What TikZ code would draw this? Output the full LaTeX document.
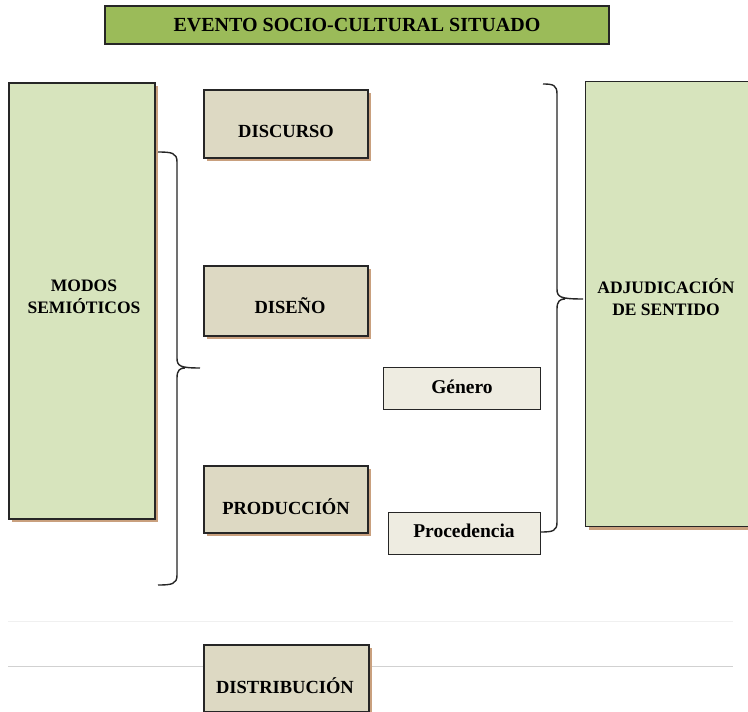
\documentclass[tikz,border=0pt]{standalone}
\usepackage{fontspec}
\setmainfont{Liberation Serif}
\begin{document}
\begin{tikzpicture}[x=1pt,y=-1pt,
  font=\bfseries,
  shadowc/.style={fill=shadowbrown},
  box/.style={draw=black!85,line width=1.2pt,inner sep=0pt,align=center},
  bigtxt/.style={align=center,font=\fontsize{17.5}{22}\selectfont\bfseries},
  midtxt/.style={font=\fontsize{18.5}{22}\selectfont\bfseries},
  smtxt/.style={font=\fontsize{19.5}{22}\selectfont\bfseries},
  brace/.style={draw=black!85,line width=1.4pt,line join=round}]
\definecolor{titlegreen}{HTML}{9BBB59}
\definecolor{lightgreen}{HTML}{D7E4BD}
\definecolor{tan}{HTML}{DDD9C3}
\definecolor{cream}{HTML}{EEECE1}
\definecolor{shadowbrown}{HTML}{C9A07E}
\useasboundingbox (0,0) rectangle (748,712);
\fill[white] (0,0) rectangle (748,712);
% faint lines
\draw[black!6,line width=0.8pt] (8,621) -- (733,621);
\draw[black!18,line width=1pt] (8,666) -- (733,666);
% shadows
\fill[shadowc] (12,86) rectangle (158,522);
\fill[shadowc] (207,93) rectangle (371,161);
\fill[shadowc] (207,269) rectangle (371,339);
\fill[shadowc] (207,469) rectangle (371,536);
\fill[shadowc] (207,648) rectangle (372,714);
\fill[shadowc] (589,84) rectangle (752,530);
% boxes
\node[box,fill=titlegreen,minimum width=504,minimum height=38,font=\fontsize{20}{22}\selectfont\bfseries] (title) at (357,25) {EVENTO SOCIO-CULTURAL SITUADO};
\node[box,fill=lightgreen,minimum width=146,minimum height=436] (modos) at (82,301) {};
\node[box,fill=tan,minimum width=164,minimum height=68] (discurso) at (286,124) {};
\node[box,fill=tan,minimum width=164,minimum height=70] (diseno) at (286,301) {};
\node[box,fill=tan,minimum width=164,minimum height=67] (produccion) at (286,499.5) {};
\node[box,fill=tan,minimum width=165,minimum height=67] (distribucion) at (286.5,678.5) {};
\node[box,fill=cream,minimum width=157,minimum height=42,line width=1pt] (genero) at (461.5,388) {};
\node[box,fill=cream,minimum width=152,minimum height=42,line width=1pt] (procedencia) at (464,533) {};
\node[box,fill=lightgreen,minimum width=166,minimum height=445,anchor=north west] (adjud) at (585,81) {};
% texts
\node[bigtxt] (modosT) at (84,297) {MODOS\\SEMIÓTICOS};
\node[bigtxt] (adjudT) at (666,297) {ADJUDICACIÓN\\DE SENTIDO};
\node[midtxt] (discursoT) at (286,131) {DISCURSO};
\node[midtxt] (disenoT) at (290,306) {DISEÑO};
\node[midtxt] (produccionT) at (286,507) {PRODUCCIÓN};
\node[midtxt] (distribucionT) at (285,686) {DISTRIBUCIÓN};
\node[smtxt] (generoT) at (462,387) {Género};
\node[smtxt] (procedenciaT) at (464,531) {Procedencia};
% left brace
\coordinate (lb) at (200,368);
\draw[brace] (158,152) .. controls (172,152) and (177,153) .. (177,162)
  -- (177,358) .. controls (177,366) and (180,368) .. (lb)
  (177,378) .. controls (177,370) and (180,368) .. (185,368)
  (177,378) -- (177,575) .. controls (177,584) and (172,585) .. (158,585);
% right brace
\coordinate (rb) at (583,299);
\draw[brace] (543,84) .. controls (553,84) and (557,85) .. (557,94)
  -- (557,289) .. controls (557,297) and (560,299) .. (rb)
  (557,309) .. controls (557,301) and (560,299) .. (565,299)
  (557,309) -- (557,522) .. controls (557,531) and (553,532) .. (procedencia.east |- 0,532);
\end{tikzpicture}
\end{document}
